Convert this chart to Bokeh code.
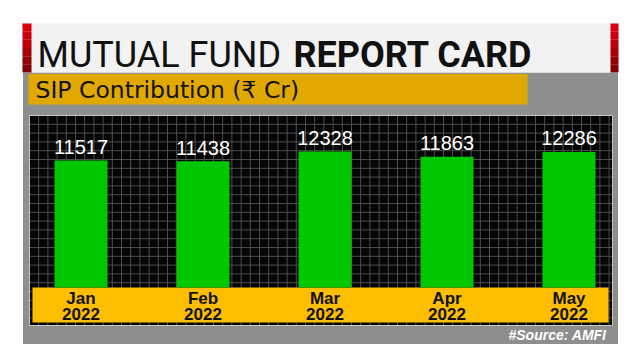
import numpy as np
from bokeh.plotting import figure
from bokeh.models import Range1d
from bokeh.core.properties import value
from bokeh.embed import file_html
from bokeh.resources import INLINE

# ---- data ----
title_regular = "MUTUAL FUND"
title_bold = "REPORT CARD"
subtitle = "SIP Contribution (₹ Cr)"
months = ["Jan", "Feb", "Mar", "Apr", "May"]
years = ["2022", "2022", "2022", "2022", "2022"]
sip = [11517, 11438, 12328, 11863, 12286]
source_note = "#Source: AMFI"

# ---- layout constants (page pixel coordinates) ----
W, H = 632, 352
X0, X1, Y0, Y1 = 0, W, 0, H
BAR_C0, BAR_STEP = 80.5, 122.0
ZERO_PX, UNITS_PER_PX = 287.0, 90.66
BL = 0.34  # baseline correction (fraction of font size) for the svg text rendering

ROBOTO = value("Roboto")
SANS = value("Liberation Sans")

p = figure(width=W, height=H, x_range=Range1d(X0, X1), y_range=Range1d(Y1, Y0),
           output_backend="svg", toolbar_location=None, min_border=0,
           x_axis_location=None, y_axis_location=None)
p.grid.visible = False
p.outline_line_color = None
p.background_fill_color = "white"
p.border_fill_color = "white"

p.extra_x_ranges = {"idx": Range1d((X0 - BAR_C0) / BAR_STEP, (X1 - BAR_C0) / BAR_STEP)}
p.extra_y_ranges = {"val": Range1d(-(Y1 - ZERO_PX) * UNITS_PER_PX, (ZERO_PX - Y0) * UNITS_PER_PX)}

# gray panel
p.quad(left=22.5, right=617.5, top=72, bottom=343.5, fill_color="#8e8e8e", line_color=None)

# title card
p.quad(left=22, right=618, top=23, bottom=72, fill_color="#f2f2f2", line_color=None)
reds = ["#d8000f", "#cc000c", "#bb000a", "#a80008", "#940006", "#800004"]
band = (72 - 23) / len(reds)
for i, c in enumerate(reds):
    for (l, r) in [(22, 31), (610, 618)]:
        p.quad(left=l, right=r, top=23 + i * band, bottom=23 + (i + 1) * band,
               fill_color=c, line_color=None)

p.text(x=[37], y=[66.5 - BL * 36], text=[title_regular], text_font=ROBOTO, text_font_size="36px",
       text_color="#111111", text_baseline="alphabetic", text_align="left")
p.text(x=[293], y=[66.5 - BL * 36], text=[title_bold], text_font=ROBOTO, text_font_size="36px",
       text_font_style="bold", text_color="#111111", text_baseline="alphabetic", text_align="left")

# subtitle bar
p.quad(left=28, right=527, top=73.5, bottom=104, fill_color="#e1a900", line_color=None)
p.text(x=[35], y=[97.5 - BL * 23.5], text=[subtitle], text_font=value("DejaVu Sans"),
       text_font_size="23.5px", text_color="#111111", text_baseline="alphabetic", text_align="left")

# chart background with grid
p.quad(left=29, right=612, top=115, bottom=325, fill_color="#050505",
       line_color="#c8c8c8", line_width=1)
gx = np.arange(29 + 9.2, 612, 9.2)
gy = np.arange(115 + 8.8, 325, 8.8)
p.segment(x0=gx, x1=gx, y0=[115.5] * len(gx), y1=[324.5] * len(gx), line_color="#4e4e4e", line_width=1)
p.segment(x0=[29.5] * len(gy), x1=[611.5] * len(gy), y0=gy, y1=gy, line_color="#4e4e4e", line_width=1)

# category label bar
p.quad(left=32, right=608, top=287, bottom=322, fill_color="#fdbe00", line_color=None)

idx = list(range(len(months)))
p.vbar(x=idx, top=sip, bottom=0, width=53 / BAR_STEP, fill_color="#00c800", line_color=None,
       x_range_name="idx", y_range_name="val")
p.text(x=idx, y=sip, text=[str(v) for v in sip], x_range_name="idx", y_range_name="val",
       y_offset=-7 - BL * 20, text_font=SANS, text_font_size="20px", text_color="white",
       text_align="center", text_baseline="alphabetic")

p.text(x=idx, y=[303.5 - BL * 17] * len(idx), text=months, x_range_name="idx",
       text_font=SANS, text_font_size="17px", text_font_style="bold", text_color="#111111",
       text_align="center", text_baseline="alphabetic")
p.text(x=idx, y=[319.5 - BL * 17] * len(idx), text=years, x_range_name="idx",
       text_font=SANS, text_font_size="17px", text_font_style="bold", text_color="#111111",
       text_align="center", text_baseline="alphabetic")

# source
p.text(x=[606], y=[339.5 - BL * 14], text=[source_note], text_font=SANS, text_font_size="14px",
       text_font_style="bold italic", text_color="white",
       text_align="right", text_baseline="alphabetic")

open("out.html", "w").write(file_html(p, INLINE))
